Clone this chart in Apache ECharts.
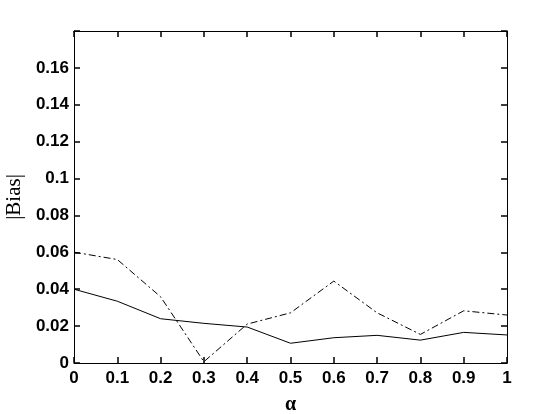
<!DOCTYPE html>
<html>
<head>
<meta charset="utf-8">
<script src="https://cdn.jsdelivr.net/npm/echarts@6/dist/echarts.min.js"></script>
<style>
  html, body { margin: 0; padding: 0; background: #fff; }
  #chart { width: 560px; height: 414px; }
</style>
</head>
<body>
<div id="chart"></div>
<script>
// alpha values along x
var alphas = [0, 0.1, 0.2, 0.3, 0.4, 0.5, 0.6, 0.7, 0.8, 0.9, 1];
// solid line
var biasSolid = [0.040, 0.0335, 0.024, 0.0215, 0.0195, 0.0107, 0.0137, 0.015, 0.0124, 0.0166, 0.0152];
// dash-dot line
var biasDashDot = [0.0601, 0.0561, 0.0359, 0.0007, 0.0211, 0.0272, 0.0444, 0.0272, 0.0155, 0.0283, 0.026];
var yTicks = ['0', '0.02', '0.04', '0.06', '0.08', '0.1', '0.12', '0.14', '0.16'];

function pairs(ys) {
  return alphas.map(function (a, i) { return [a, ys[i]]; });
}

function tickFont() {
  return { fontFamily: 'Liberation Sans', fontWeight: 'bold', fontSize: 17, color: '#000' };
}
function innerTick() {
  return { show: true, inside: true, length: 6, interval: 0, lineStyle: { color: '#000', width: 1.5 } };
}
function blackLine() {
  return { show: true, onZero: false, lineStyle: { color: '#000', width: 1 } };
}

var chart = echarts.init(document.getElementById('chart'));
chart.setOption({
  animation: false,
  backgroundColor: '#fff',
  grid: {
    left: 74, top: 31, right: 53, bottom: 51,
    outerBoundsMode: 'none', containLabel: false
  },
  xAxis: [{
    type: 'value', min: 0, max: 1, interval: 0.1, position: 'bottom',
    name: 'α', nameLocation: 'middle', nameGap: 32,
    nameTextStyle: { fontFamily: 'Liberation Serif', fontWeight: 'bold', fontSize: 20, color: '#000' },
    axisLine: blackLine(),
    axisTick: innerTick(),
    axisLabel: Object.assign({ margin: 7, formatter: function (v) { return String(+v.toFixed(1)); } }, tickFont()),
    splitLine: { show: false }
  }, {
    type: 'value', min: 0, max: 1, interval: 0.1, position: 'top',
    axisLine: blackLine(),
    axisTick: innerTick(),
    axisLabel: { show: false },
    splitLine: { show: false }
  }],
  yAxis: [{
    type: 'value', min: 0, max: 0.18, interval: 0.02, position: 'left',
    name: '|Bias|', nameLocation: 'middle', nameGap: 46, nameRotate: 90,
    nameTextStyle: { fontFamily: 'Liberation Serif', fontSize: 21, color: '#000' },
    axisLine: blackLine(),
    axisTick: innerTick(),
    axisLabel: Object.assign({
      margin: 5,
      formatter: function (v) {
        var i = Math.round(v / 0.02);
        return i < yTicks.length ? yTicks[i] : '';
      }
    }, tickFont()),
    splitLine: { show: false }
  }, {
    type: 'value', min: 0, max: 0.18, interval: 0.02, position: 'right',
    axisLine: blackLine(),
    axisTick: innerTick(),
    axisLabel: { show: false },
    splitLine: { show: false }
  }],
  series: [{
    type: 'line', data: pairs(biasDashDot), symbol: 'none',
    lineStyle: { color: '#000', width: 1, type: [7, 3, 2, 3] }
  }, {
    type: 'line', data: pairs(biasSolid), symbol: 'none',
    lineStyle: { color: '#000', width: 1, type: 'solid' }
  }, {
    // binds the top/right frame axes so they are drawn
    type: 'line', xAxisIndex: 1, yAxisIndex: 1, data: [[0, 0]], symbol: 'none',
    lineStyle: { width: 0, opacity: 0 }
  }]
});
</script>
</body>
</html>
